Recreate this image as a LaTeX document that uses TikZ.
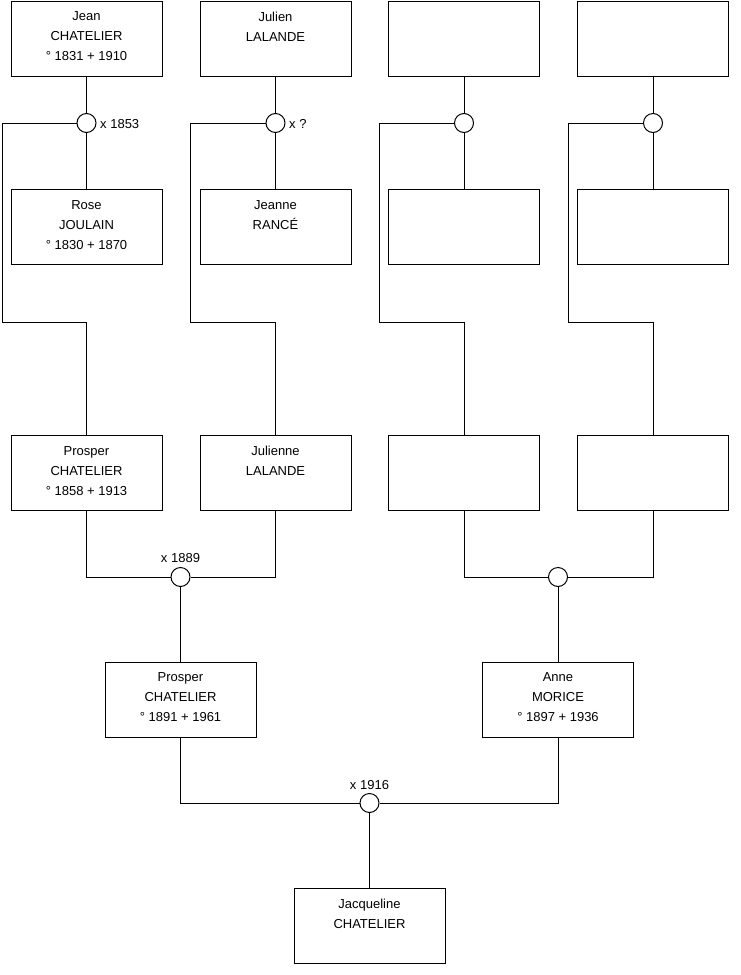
\documentclass[tikz,border=0pt]{standalone}
\usepackage{fontspec}
\setmainfont{Liberation Sans}
\begin{document}
\begin{tikzpicture}[x=1pt,y=-1pt,
  person/.style={draw, rectangle, minimum width=151pt, minimum height=75pt, inner sep=0pt, line width=1pt},
  union/.style={draw, circle, minimum size=19pt, inner sep=0pt, line width=1pt, fill=white},
  txt/.style={anchor=north, align=center, inner sep=0pt, font=\fontsize{13}{20}\selectfont},
  lbl/.style={inner sep=0pt, font=\fontsize{13}{15}\selectfont},
  link/.style={line width=1pt}]
\useasboundingbox (0,0) rectangle (740,975);

% row 1
\node[person] (jean) at (86.5,38.5) {};
\node[person] (julien) at (275.5,38.5) {};
\node[person] (g3) at (464,38.5) {};
\node[person] (g4) at (653,38.5) {};
% row 2
\node[person] (rose) at (86.5,227) {};
\node[person] (jeanne) at (275.5,227) {};
\node[person] (g7) at (464,227) {};
\node[person] (g8) at (653,227) {};
% row 3
\node[person] (prosperA) at (86.5,473) {};
\node[person] (julienne) at (275.5,473) {};
\node[person] (p3) at (464,473) {};
\node[person] (p4) at (653,473) {};
% row 4
\node[person] (prosperB) at (180.5,699.5) {};
\node[person] (anne) at (558,699.5) {};
% row 5
\node[person] (jacq) at (369.5,925.5) {};

% texts
\node[txt] (tjean) at ([yshift=-11pt]jean.north) {Jean\\CHATELIER\\° 1831 + 1910};
\node[txt] (tjulien) at ([yshift=-11pt]julien.north) {Julien\\LALANDE};
\node[txt] (trose) at ([yshift=-11pt]rose.north) {Rose\\JOULAIN\\° 1830 + 1870};
\node[txt] (tjeanne) at ([yshift=-11pt]jeanne.north) {Jeanne\\RANCÉ};
\node[txt] (tprosperA) at ([yshift=-11pt]prosperA.north) {Prosper\\CHATELIER\\° 1858 + 1913};
\node[txt] (tjulienne) at ([yshift=-11pt]julienne.north) {Julienne\\LALANDE};
\node[txt] (tprosperB) at ([yshift=-11pt]prosperB.north) {Prosper\\CHATELIER\\° 1891 + 1961};
\node[txt] (tanne) at ([yshift=-11pt]anne.north) {Anne\\MORICE\\° 1897 + 1936};
\node[txt] (tjacq) at ([yshift=-11pt]jacq.north) {Jacqueline\\CHATELIER};

% unions
\node[union] (u1) at (86.5,123) {};
\node[union] (u2) at (275.5,123) {};
\node[union] (u3) at (464,123) {};
\node[union] (u4) at (653,123) {};
\node[union] (u5) at (180.5,577) {};
\node[union] (u6) at (558,577) {};
\node[union] (u7) at (369.5,803) {};

% union labels
\node[lbl, anchor=west] (l1) at (100,124) {x 1853};
\node[lbl, anchor=west] (l2) at (289,124) {x ?};
\node[lbl] (l5) at (180.5,558) {x 1889};
\node[lbl] (l7) at (369.5,785) {x 1916};

% elbow coordinates
\coordinate (e1) at (2,322);
\coordinate (e2) at (190.5,322);
\coordinate (e3) at (379,322);
\coordinate (e4) at (568.5,322);

% links generation 1
\foreach \a/\u/\b/\e/\c in {jean/u1/rose/e1/prosperA, julien/u2/jeanne/e2/julienne, g3/u3/g7/e3/p3, g4/u4/g8/e4/p4}{
  \draw[link] (\a.south) -- (\u.north);
  \draw[link] (\u.south) -- (\b.north);
  \draw[link] (\u.west) -| (\e) -| (\c.north);
}

% links generation 2
\draw[link] (prosperA.south) |- (u5.west);
\draw[link] (julienne.south) |- (u5.east);
\draw[link] (u5.south) -- (prosperB.north);
\draw[link] (p3.south) |- (u6.west);
\draw[link] (p4.south) |- (u6.east);
\draw[link] (u6.south) -- (anne.north);

% links generation 3
\draw[link] (prosperB.south) |- (u7.west);
\draw[link] (anne.south) |- (u7.east);
\draw[link] (u7.south) -- (jacq.north);
\end{tikzpicture}
\end{document}
